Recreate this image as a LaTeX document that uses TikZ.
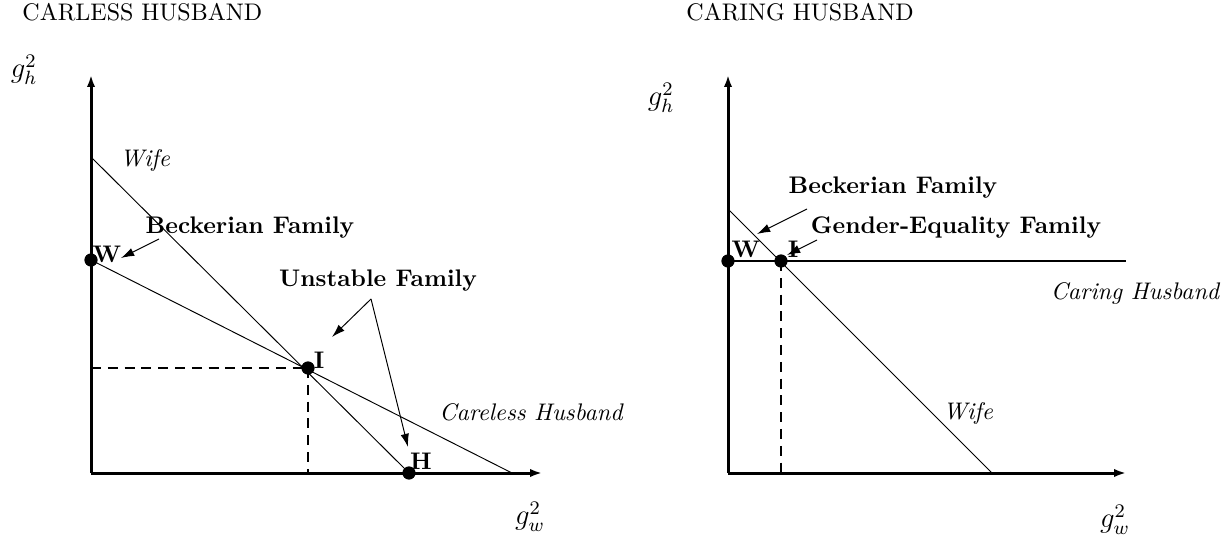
\documentclass[tikz,border=0pt]{standalone}
\usepackage{tikz}
\usetikzlibrary{positioning, arrows.meta, calc}

\begin{document}
\begin{tikzpicture}[
  x=0.41667pt, y=-0.41667pt,
  axis/.style={line width=1.25pt, -{Latex[length=5pt,width=3.5pt]}},
  curve/.style={line width=0.4pt},
  flat/.style={line width=0.8pt},
  guide/.style={line width=0.5pt, dash pattern=on 4.2pt off 2.8pt},
  pointer/.style={line width=0.4pt, -{Latex[length=5.5pt,width=3.5pt]}},
  dot/.style={circle, fill, inner sep=0pt, minimum size=5.4pt},
  lab/.style={inner sep=1pt, font=\bfseries},
  curvelab/.style={inner sep=1pt, font=\itshape},
  varlab/.style={inner sep=0pt, font=\large},
  title/.style={anchor=base west, inner sep=0pt},
]
\useasboundingbox (0,0) rectangle (1230,542);

% --- Careless husband ---
\node[title] (Title1) at (22,21) {CARLESS HUSBAND};
\coordinate (O1) at (91,473);
\coordinate (Y1) at (91,75);
\coordinate (X1) at (542,473);
\coordinate (WifeTop1) at (91,157);
\coordinate (CareEnd1) at (512,473);
\node[dot] (W1) at (91,260) {};
\node[dot] (I1) at (308,368) {};
\node[dot] (H1) at (409,473) {};

\draw[curve] (WifeTop1) -- (H1.center);
\draw[curve] (W1.center) -- (CareEnd1);
\draw[guide] (O1 |- I1) -- (I1.center);
\draw[guide] (I1.center) -- (I1 |- O1);
\draw[axis] (O1) -- (Y1);
\draw[axis] (O1) -- (X1);
\node[dot] at (W1) {};
\node[dot] at (I1) {};
\node[dot] at (H1) {};

\node[varlab] (gh1) at (24,70) {$g_h^2$};
\node[varlab] (gw1) at (530,517) {$g_w^2$};
\node[curvelab] (WifeLab1) at (145,161) {Wife};
\node[curvelab] (CareLab1) at (531,412) {Careless Husband};
\node[lab] (WLab1) at (107,254) {W};
\node[lab] (ILab1) at (319,360) {I};
\node[lab] (HLab1) at (421,461) {H};
\node[lab] (BeckLab1) at (250,228) {Beckerian Family};
\node[lab] (UnstLab) at (378,281) {Unstable Family};
\coordinate (BeckTail1) at (159,239);
\coordinate (UnstFork) at (371,299);
\draw[pointer] (BeckTail1) -- (121,258);
\draw[pointer] (UnstFork) -- (332,337);
\draw[pointer] (UnstFork) -- (408,447);

% --- Caring husband ---
\node[title] (Title2) at (686,21) {CARING HUSBAND};
\coordinate (O2) at (728,473);
\coordinate (Y2) at (728,75);
\coordinate (X2) at (1126,473);
\coordinate (WifeTop2) at (728,209);
\coordinate (WifeEnd2) at (992,473);
\coordinate (CareEnd2) at (1126,261);
\node[dot] (W2) at (728,261) {};
\node[dot] (I2) at (781,261) {};

\draw[curve] (WifeTop2) -- (WifeEnd2);
\draw[flat] (W2.center) -- (CareEnd2);
\draw[guide] (I2.center) -- (I2 |- O2);
\draw[axis] (O2) -- (Y2);
\draw[axis] (O2) -- (X2);
\node[dot] at (W2) {};
\node[dot] at (I2) {};

\node[varlab] (gh2) at (661,98) {$g_h^2$};
\node[varlab] (gw2) at (1115,520) {$g_w^2$};
\node[curvelab] (WifeLab2) at (968,413) {Wife};
\node[curvelab] (CareLab2) at (1135,294) {Caring Husband};
\node[lab] (WLab2) at (746,249) {W};
\node[lab] (ILab2) at (793,249) {I};
\node[lab] (BeckLab2) at (893,188) {Beckerian Family};
\node[lab] (GELab) at (956,228) {Gender-Equality Family};
\coordinate (BeckTail2) at (807,209);
\coordinate (GETail) at (817,240);
\draw[pointer] (BeckTail2) -- (757,234);
\draw[pointer] (GETail) -- (787,255);
\end{tikzpicture}
\end{document}
